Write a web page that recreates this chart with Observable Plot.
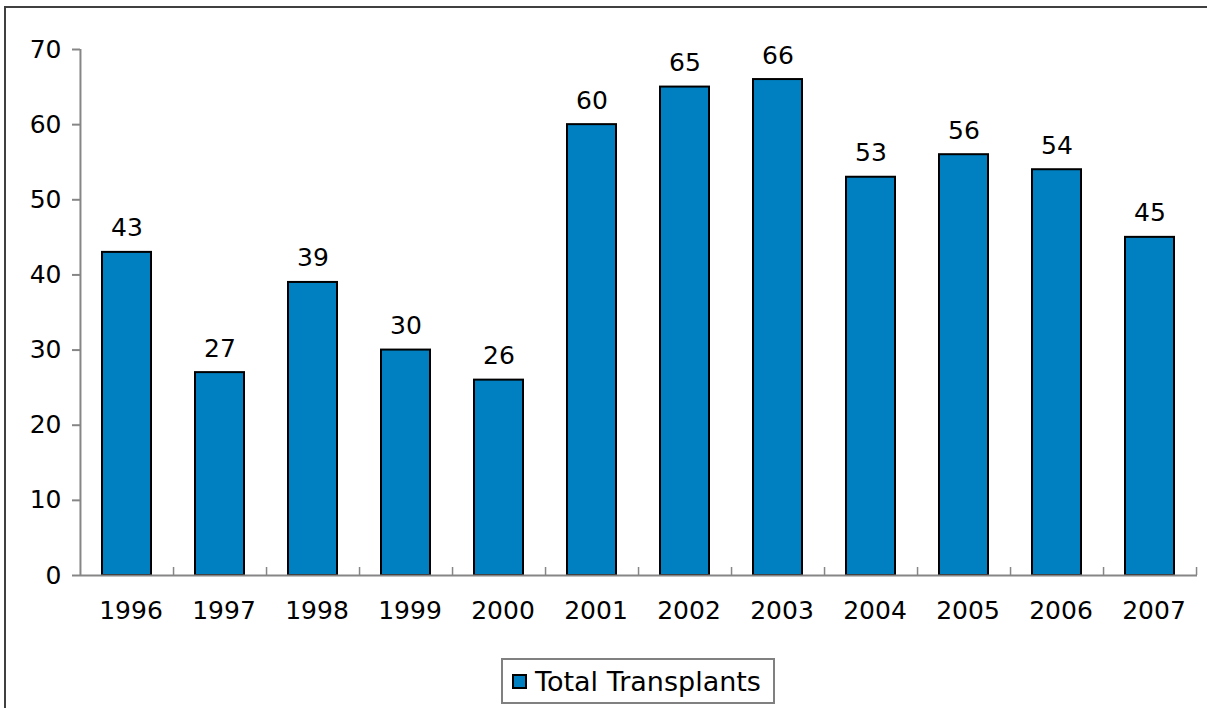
<!DOCTYPE html>
<html>
<head>
<meta charset="utf-8">
<script src="https://cdn.jsdelivr.net/npm/d3@7"></script>
<script src="https://cdn.jsdelivr.net/npm/@observablehq/plot@0.6"></script>
<style>
  html, body { margin: 0; padding: 0; background: #fff; overflow: hidden; width: 1207px; height: 708px; }
  #frame { position: absolute; left: 4px; top: 6px; width: 1240px; height: 740px; border: 2px solid #404040; box-sizing: border-box; }
  #chart { position: absolute; left: 0; top: 0; }
  #legend { position: absolute; left: 501px; top: 658px; width: 274px; height: 46px; border: 2px solid #808080; box-sizing: border-box;
            font-family: "DejaVu Sans", Verdana, sans-serif; font-size: 27px; color: #000; display: flex; align-items: center; white-space: nowrap; overflow: hidden; }
  #legend .sw { width: 15px; height: 15px; box-sizing: border-box; border: 2px solid #000; background: #0080C0; margin-left: 9px; margin-right: 8px; flex: none; }
</style>
</head>
<body>
<div id="frame"></div>
<div id="chart"></div>
<div id="legend"><span class="sw"></span><span id="legend-text"></span></div>
<script>
const years = ["1996","1997","1998","1999","2000","2001","2002","2003","2004","2005","2006","2007"];
const transplants = [43, 27, 39, 30, 26, 60, 65, 66, 53, 56, 54, 45];
const yTicks = [0, 10, 20, 30, 40, 50, 60, 70];
const seriesName = "Total Transplants";

document.getElementById("legend-text").textContent = seriesName;

const data = years.map((y, i) => ({year: y, value: transplants[i]}));

const W = 1207, H = 650, mL = 80, mR = 10, mT = 49, mB = 75;
const step = (W - mL - mR) / years.length;
const gray = "#868686";

const chart = Plot.plot({
  width: W, height: H,
  marginLeft: mL, marginRight: mR, marginTop: mT, marginBottom: mB,
  style: {fontFamily: '"DejaVu Sans", Verdana, sans-serif', fontSize: "25px", color: "#000", background: "transparent", overflow: "visible"},
  x: {domain: years, paddingInner: 0.47, paddingOuter: 0.235, label: null},
  y: {domain: [0, 70], ticks: yTicks, label: null},
  marks: [
    Plot.barY(data, {x: "year", y: "value", fill: "#0080C0", stroke: "#000", strokeWidth: 2}),
    Plot.ruleY([0], {stroke: gray, strokeWidth: 2}),
    Plot.ruleX([years[0]], {x: d => d, y1: 0, y2: 70, dx: -step / 2, stroke: gray, strokeWidth: 2}),
    Plot.ruleX(years, {x: d => d, y1: 0, y2: 8 / 7.5, dx: step / 2, stroke: gray, strokeWidth: 1.5}),
    Plot.axisY({ticks: yTicks, tickSize: 8, tickPadding: 11, stroke: gray, strokeWidth: 2, fill: "#000", label: null}),
    Plot.axisX({tickSize: 0, tickPadding: 26, dx: 4, fill: "#000", label: null}),
    Plot.text(data, {x: "year", y: "value", text: d => String(d.value), dy: -24, fill: "#000"})
  ]
});
document.getElementById("chart").appendChild(chart);
</script>
</body>
</html>
